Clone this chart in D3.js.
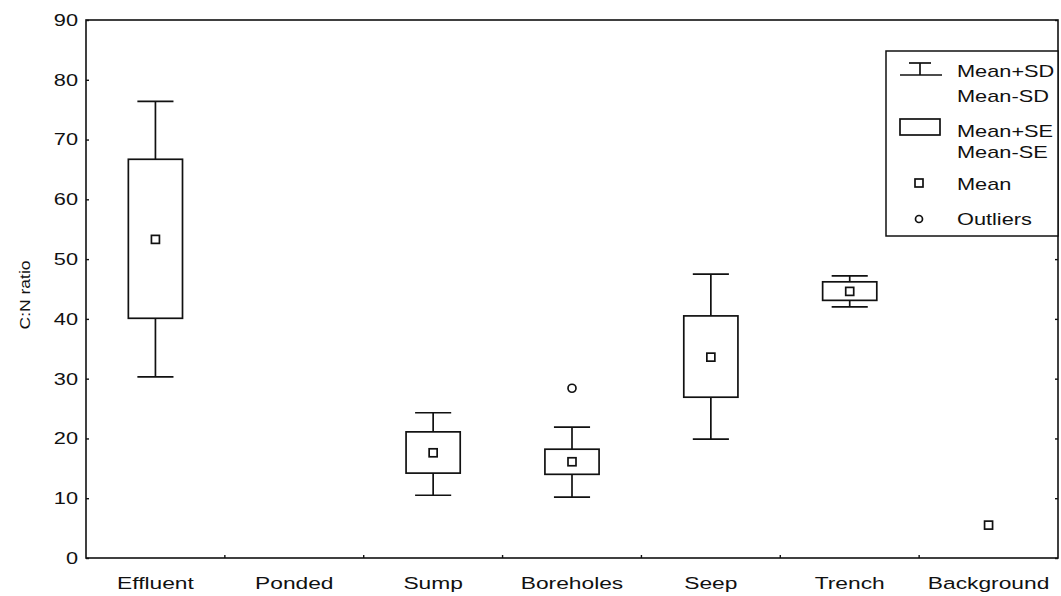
<!DOCTYPE html>
<html>
<head>
<meta charset="utf-8">
<script src="https://cdn.jsdelivr.net/npm/d3@7"></script>
<style>
body{margin:0;background:#fff;}
text{font-family:"Liberation Sans", Arial, sans-serif;fill:#111;}
</style>
</head>
<body>
<div id="svgContainer"></div>
<script>
// chart values
var categories = ["Effluent","Ponded","Sump","Boreholes","Seep","Trench","Background"];
var means  = [53.3, null, 17.6, 16.1, 33.6, 44.6, 5.5];
var seHigh = [66.7, null, 21.1, 18.2, 40.5, 46.2, null];
var seLow  = [40.1, null, 14.2, 14.0, 26.9, 43.1, null];
var sdHigh = [76.4, null, 24.3, 21.9, 47.5, 47.2, null];
var sdLow  = [30.3, null, 10.5, 10.2, 19.9, 42.0, null];
var outlierCats = ["Boreholes"];
var outlierVals = [28.4];
var yTicks = [0,10,20,30,40,50,60,70,80,90];
var legendLabels = ["Mean+SD","Mean-SD","Mean+SE","Mean-SE","Mean","Outliers"];

var svgWidth = 1061, svgHeight = 596;
var margin = {top:20,left:86,right:3,bottom:38};
var sx = 1.28; // text in the scan is stretched sideways
var ink = "#111";

var svg = d3.select("#svgContainer").append("svg")
	.attr("width",svgWidth)
	.attr("height",svgHeight)
	.style("display","block");

var x = d3.scaleBand().domain(categories)
	.range([margin.left, svgWidth - margin.right]);
var y = d3.scaleLinear().domain([0,90])
	.range([svgHeight - margin.bottom, margin.top]);

var boxW = x.step()*0.39, capW = x.step()*0.26;

var rows = categories.map(function(c,i){
	return {cat:c, mean:means[i], seH:seHigh[i], seL:seLow[i], sdH:sdHigh[i], sdL:sdLow[i]};
});

// frame
svg.append("rect")
	.attr("x",margin.left)
	.attr("y",margin.top)
	.attr("width",svgWidth - margin.right - margin.left)
	.attr("height",y(0) - margin.top)
	.attr("fill","none")
	.attr("stroke",ink)
	.attr("stroke-width",1.6);

// y axis left
var yaxis = svg.append("g")
	.attr("id","yaxis")
	.attr("transform","translate("+margin.left+",0)")
	.call(d3.axisLeft(y).tickValues(yTicks).tickSize(-3).tickPadding(8));
yaxis.select(".domain").remove();
yaxis.selectAll("line").attr("stroke",ink).attr("stroke-width",1.4);
yaxis.selectAll("text")
	.attr("x",-8/sx)
	.attr("transform","scale("+sx+",1)")
	.style("font-size","17px")
	.attr("fill",ink);

// right side ticks
var yaxisR = svg.append("g")
	.attr("transform","translate("+(svgWidth - margin.right)+",0)")
	.call(d3.axisRight(y).tickValues(yTicks).tickSize(-3).tickFormat(""));
yaxisR.select(".domain").remove();
yaxisR.selectAll("line").attr("stroke",ink).attr("stroke-width",1.4);

// x axis labels
var xaxis = svg.append("g")
	.attr("id","xaxis")
	.attr("transform","translate(0,"+y(0)+")")
	.call(d3.axisBottom(x).tickSize(0).tickPadding(19));
xaxis.select(".domain").remove();
xaxis.selectAll("text")
	.attr("transform","scale(1.34,1)")
	.style("font-size","17px")
	.attr("fill",ink);

// category boundary ticks
svg.selectAll(".xtick")
	.data(categories.slice(1))
	.enter().append("line")
	.attr("class","xtick")
	.attr("x1",function(d){return x(d);})
	.attr("x2",function(d){return x(d);})
	.attr("y1",y(0))
	.attr("y2",y(0)-3)
	.attr("stroke",ink)
	.attr("stroke-width",1.4);

// axis title
svg.append("text")
	.attr("transform","translate(30,295) rotate(-90) scale(1.25,1)")
	.attr("text-anchor","middle")
	.style("font-size","14px")
	.text("C:N ratio");

// whiskers
var withBox = rows.filter(function(d){return d.seH != null;});
var cx = function(d){return x(d.cat) + x.bandwidth()/2;};

var g = svg.append("g")
	.attr("stroke",ink)
	.attr("stroke-width",1.7)
	.attr("fill","none");

g.selectAll(".whiskUp").data(withBox).enter().append("line")
	.attr("x1",cx).attr("x2",cx)
	.attr("y1",function(d){return y(d.seH);})
	.attr("y2",function(d){return y(d.sdH);});
g.selectAll(".whiskDn").data(withBox).enter().append("line")
	.attr("x1",cx).attr("x2",cx)
	.attr("y1",function(d){return y(d.seL);})
	.attr("y2",function(d){return y(d.sdL);});
g.selectAll(".capUp").data(withBox).enter().append("line")
	.attr("x1",function(d){return cx(d)-capW/2;})
	.attr("x2",function(d){return cx(d)+capW/2;})
	.attr("y1",function(d){return y(d.sdH);})
	.attr("y2",function(d){return y(d.sdH);});
g.selectAll(".capDn").data(withBox).enter().append("line")
	.attr("x1",function(d){return cx(d)-capW/2;})
	.attr("x2",function(d){return cx(d)+capW/2;})
	.attr("y1",function(d){return y(d.sdL);})
	.attr("y2",function(d){return y(d.sdL);});

// boxes
g.selectAll(".box").data(withBox).enter().append("rect")
	.attr("x",function(d){return cx(d)-boxW/2;})
	.attr("y",function(d){return y(d.seH);})
	.attr("width",boxW)
	.attr("height",function(d){return y(d.seL)-y(d.seH);})
	.attr("fill","#fff");

// means
g.selectAll(".mean").data(rows.filter(function(d){return d.mean != null;})).enter().append("rect")
	.attr("x",function(d){return cx(d)-4;})
	.attr("y",function(d){return y(d.mean)-4;})
	.attr("width",8)
	.attr("height",8);

// outliers
g.selectAll(".outlier").data(outlierVals).enter().append("circle")
	.attr("cx",function(d,i){return x(outlierCats[i]) + x.bandwidth()/2;})
	.attr("cy",function(d){return y(d);})
	.attr("r",4);

// legend
var lg = svg.append("g").attr("id","legend");
lg.append("rect")
	.attr("x",886).attr("y",51)
	.attr("width",svgWidth - margin.right - 886)
	.attr("height",185)
	.attr("fill","#fff")
	.attr("stroke",ink)
	.attr("stroke-width",1.5);

var ls = lg.append("g").attr("stroke",ink).attr("stroke-width",1.7).attr("fill","none");
ls.append("line").attr("x1",900).attr("x2",942).attr("y1",75).attr("y2",75);
ls.append("line").attr("x1",920).attr("x2",920).attr("y1",63).attr("y2",75);
ls.append("line").attr("x1",909).attr("x2",931).attr("y1",63).attr("y2",63);
ls.append("rect").attr("x",900).attr("y",119).attr("width",40).attr("height",16);
ls.append("rect").attr("x",915).attr("y",179).attr("width",8).attr("height",8);
ls.append("circle").attr("cx",919).attr("cy",219).attr("r",3.5);

var legendY = [77,102,137,158,190,225];
lg.selectAll(".ltext").data(legendLabels).enter().append("text")
	.attr("class","ltext")
	.attr("x",957/sx)
	.attr("y",function(d,i){return legendY[i];})
	.attr("transform","scale("+sx+",1)")
	.style("font-size","17px")
	.text(function(d){return d;});
</script>
</body>
</html>
